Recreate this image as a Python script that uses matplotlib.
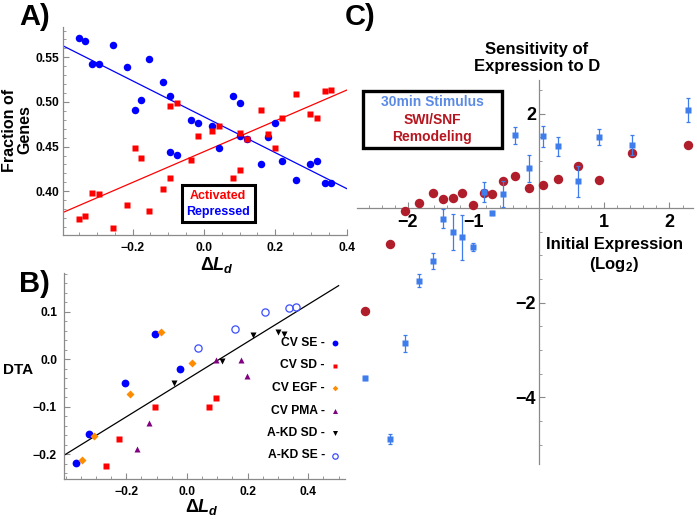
import numpy as np
import matplotlib
matplotlib.use('Agg')
import matplotlib.pyplot as plt
from matplotlib.patches import Rectangle
from matplotlib.ticker import MultipleLocator, FuncFormatter

# --- Datos del panel A ---
a_x = [-0.351, -0.333, -0.313, -0.294, -0.254, -0.215, -0.194, -0.175, -0.155, -0.116,
       -0.095, -0.095, -0.075, -0.036, -0.017, 0.022, 0.042, 0.082, 0.101, 0.101,
       0.121, 0.161, 0.180, 0.200, 0.220, 0.257, 0.298, 0.318, 0.338, 0.357]
a_repressed = [0.572, 0.568, 0.543, 0.543, 0.564, 0.539, 0.491, 0.502, 0.548, 0.522,
               0.507, 0.444, 0.441, 0.480, 0.477, 0.473, 0.449, 0.507, 0.499, 0.462,
               0.459, 0.431, 0.461, 0.476, 0.434, 0.413, 0.431, 0.434, 0.409, 0.409]
a_activated = [0.369, 0.372, 0.398, 0.397, 0.359, 0.385, 0.448, 0.437, 0.378, 0.403,
               0.415, 0.496, 0.499, 0.435, 0.462, 0.468, 0.473, 0.415, 0.424, 0.465,
               0.458, 0.491, 0.464, 0.449, 0.482, 0.509, 0.486, 0.482, 0.512, 0.513]

# --- Datos del panel B ---
b_series = ['CV SE', 'CV SD', 'CV EGF', 'CV PMA', 'A-KD SD', 'A-KD SE']
b_x = {
    'CV SE': [-0.367, -0.324, -0.204, -0.104, -0.024],
    'CV SD': [-0.266, -0.225, -0.104, 0.074, 0.096],
    'CV EGF': [-0.347, -0.307, -0.186, -0.084, 0.016],
    'CV PMA': [-0.163, -0.126, 0.096, 0.179, 0.198],
    'A-KD SD': [-0.043, 0.116, 0.217, 0.299, 0.319],
    'A-KD SE': [0.036, 0.157, 0.259, 0.338, 0.360],
}
b_y = {
    'CV SE': [-0.219, -0.157, -0.049, 0.053, -0.020],
    'CV SD': [-0.224, -0.168, -0.101, -0.101, -0.082],
    'CV EGF': [-0.212, -0.161, -0.072, 0.058, -0.008],
    'CV PMA': [-0.189, -0.135, -0.001, -0.001, -0.034],
    'A-KD SD': [-0.050, -0.004, 0.051, 0.058, 0.053],
    'A-KD SE': [0.024, 0.063, 0.100, 0.109, 0.111],
}

# --- Datos del panel C ---
c_x = [-2.65, -2.28, -2.04, -1.83, -1.62, -1.47, -1.31, -1.18, -1.00, -0.83,
       -0.71, -0.54, -0.37, -0.15, 0.06, 0.30, 0.60, 0.92, 1.43, 2.28]
c_stim = [-3.59, -4.88, -2.86, -1.53, -1.11, -0.22, -0.50, -0.62, -0.82, 0.35,
          -0.11, 0.30, 1.54, 0.84, 1.52, 1.31, 0.57, 1.50, 1.34, 2.08]
c_stim_err = [0.05, 0.10, 0.18, 0.13, 0.17, 0.21, 0.38, 0.47, 0.08, 0.21,
              0.04, 0.27, 0.18, 0.28, 0.22, 0.20, 0.33, 0.17, 0.21, 0.25]
c_swi = [-2.17, -0.76, -0.06, 0.11, 0.32, 0.20, 0.21, 0.33, 0.06, 0.32,
         0.29, 0.58, 0.68, 0.43, 0.50, 0.61, 0.90, 0.60, 1.17, 1.34]

# --- Estilo ---
plt.rcParams['font.family'] = ['Liberation Sans', 'DejaVu Sans']
plt.rcParams['font.weight'] = 'bold'
plt.rcParams['mathtext.fontset'] = 'custom'
plt.rcParams['mathtext.rm'] = 'Liberation Sans:bold'
plt.rcParams['mathtext.it'] = 'Liberation Sans:italic:bold'
plt.rcParams['mathtext.bf'] = 'Liberation Sans:bold'

W, H = 697, 519
GRIS = '#8a8a8a'
AZUL_C = '#3f7cec'
ROJO_C = '#b01e2c'


def fx(p):
    return p / W


def fy(p):
    return 1 - p / H


def fmt(dec):
    return FuncFormatter(lambda v, pos: ('%.*f' % (dec, v)).replace('-', '\u2212'))


def estilo_ejes(ax, size=8.7):
    for s in ['top', 'right']:
        ax.spines[s].set_visible(False)
    for s in ['left', 'bottom']:
        ax.spines[s].set_color(GRIS)
        ax.spines[s].set_linewidth(0.9)
    ax.tick_params(which='both', direction='in', color=GRIS, labelsize=size)
    ax.tick_params(which='major', length=4, width=0.8)
    ax.tick_params(which='minor', length=2, width=0.6)
    for lab in ax.get_xticklabels() + ax.get_yticklabels():
        lab.set_fontweight('bold')


fig = plt.figure(figsize=(W / 100, H / 100), dpi=100)

# ---------------- Panel A ----------------
axA = fig.add_axes([fx(63.3), fy(235), fx(283.4), 208 / H])
axA.set_xlim(-0.394, 0.40)
axA.set_ylim(0.351, 0.584)
axA.plot(a_x, a_repressed, 'o', color='#0000ff', ms=5.4, mec='none', zorder=3)
axA.plot(a_x, a_activated, 's', color='#ff0000', ms=3.7, mec='none', zorder=3)
xl = np.array(axA.get_xlim())
kb = np.polyfit(a_x, a_repressed, 1)
kr = np.polyfit(a_x, a_activated, 1)
axA.plot(xl, np.polyval(kb, xl), color='#0000ff', lw=0.9, zorder=2)
axA.plot(xl, np.polyval(kr, xl), color='#ff0000', lw=0.9, zorder=2)
axA.set_xticks([-0.2, 0.0, 0.2, 0.4])
axA.set_yticks([0.40, 0.45, 0.50, 0.55])
axA.xaxis.set_minor_locator(MultipleLocator(0.05))
axA.yaxis.set_minor_locator(MultipleLocator(0.01))
axA.xaxis.set_major_formatter(fmt(1))
axA.yaxis.set_major_formatter(fmt(2))
estilo_ejes(axA)
axA.tick_params(axis='x', pad=5)
axA.tick_params(axis='y', pad=3)

fig.text(fx(17.5), fy(130), 'Fraction of\nGenes', rotation=90, ha='center', va='center',
         fontsize=11.5, linespacing=1.0, multialignment='center')
fig.text(fx(217), fy(265), r'$\Delta L_d$', ha='center', va='center', fontsize=13)

fig.patches.append(Rectangle((fx(181.7), fy(221.7)), fx(255 - 181.7), (221.7 - 185) / H,
                             transform=fig.transFigure, fill=False, ec='black', lw=2.2))
fig.text(fx(218.3), fy(196), 'Activated', color='#ff0000', ha='center', va='center', fontsize=9)
fig.text(fx(218.3), fy(212), 'Repressed', color='#0000ff', ha='center', va='center', fontsize=9)

# ---------------- Panel B ----------------
axB = fig.add_axes([fx(64), fy(479), fx(281), 206 / H])
axB.set_xlim(-0.405, 0.521)
axB.set_ylim(-0.252, 0.182)
estilos_b = {
    'CV SE': dict(marker='o', color='#0000ff', ms=5.6, mec='none'),
    'CV SD': dict(marker='s', color='#ff0000', ms=3.8, mec='none'),
    'CV EGF': dict(marker='D', color='#ff8c00', ms=3.8, mec='none'),
    'CV PMA': dict(marker='^', color='#800080', ms=4.8, mec='none'),
    'A-KD SD': dict(marker='v', color='#000000', ms=4.8, mec='none'),
    'A-KD SE': dict(marker='o', color='#3a4dff', ms=5.2, mfc='none', mew=0.9),
}
todos_x, todos_y = [], []
for nombre in b_series:
    axB.plot(b_x[nombre], b_y[nombre], ls='none', zorder=3, **estilos_b[nombre])
    todos_x += b_x[nombre]
    todos_y += b_y[nombre]
k = np.polyfit(todos_x, todos_y, 1)
xb = np.array([-0.405, 0.50])
axB.plot(xb, np.polyval(k, xb), color='black', lw=0.9, zorder=2)
axB.set_xticks([-0.2, 0.0, 0.2, 0.4])
axB.set_yticks([-0.2, -0.1, 0.0, 0.1])
axB.xaxis.set_minor_locator(MultipleLocator(0.05))
axB.yaxis.set_minor_locator(MultipleLocator(0.02))
axB.xaxis.set_major_formatter(fmt(1))
axB.yaxis.set_major_formatter(fmt(1))
estilo_ejes(axB)
axB.tick_params(axis='x', pad=5)
axB.tick_params(axis='y', pad=5)

fig.text(fx(18), fy(370), 'DTA', ha='center', va='center', fontsize=11)
fig.text(fx(202), fy(507), r'$\Delta L_d$', ha='center', va='center', fontsize=13)

for i, nombre in enumerate(b_series):
    yy = fy(343 + 22.5 * i)
    fig.text(fx(325), yy, nombre + ' -', ha='right', va='center', fontsize=8.7)
    st = dict(estilos_b[nombre])
    st['ms'] = st['ms'] * 0.75
    axB.plot([fx(335)], [yy], ls='none', transform=fig.transFigure, clip_on=False, **st)

# ---------------- Panel C ----------------
axC = fig.add_axes([fx(357), fy(464), fx(336), 384 / H])
axC.set_xlim(-2.78, 2.36)
axC.set_ylim(-5.41, 2.71)
axC.plot(c_x, c_swi, 'o', color=ROJO_C, ms=6.8, mec='none', zorder=3)
axC.errorbar(c_x, c_stim, yerr=c_stim_err, fmt='s', color=AZUL_C, ms=4.4, mec='none',
             elinewidth=0.9, capsize=1.3, capthick=0.9, zorder=4)
for s in ['top', 'right']:
    axC.spines[s].set_visible(False)
axC.spines['left'].set_position(('data', 0))
axC.spines['bottom'].set_position(('data', 0))
for s in ['left', 'bottom']:
    axC.spines[s].set_color(GRIS)
    axC.spines[s].set_linewidth(0.9)
    axC.spines[s].set_zorder(1)
axC.set_xticks([-2, -1, 1, 2])
axC.set_yticks([-4, -2, 2])
axC.xaxis.set_minor_locator(MultipleLocator(0.2))
axC.yaxis.set_minor_locator(MultipleLocator(0.5))
axC.xaxis.set_major_formatter(fmt(0))
axC.yaxis.set_major_formatter(fmt(0))
axC.tick_params(which='both', direction='in', color=GRIS, labelsize=13)
axC.tick_params(which='major', length=4, width=0.8)
axC.tick_params(which='minor', length=2, width=0.6)
axC.tick_params(axis='x', pad=4)
axC.tick_params(axis='y', pad=2)

fig.text(fx(536.7), fy(58), 'Sensitivity of\nExpression to D', ha='center', va='center',
         fontsize=12, linespacing=1.2)
fig.text(fx(614), fy(244), 'Initial Expression', ha='center', va='center', fontsize=12)
fig.text(fx(614), fy(265), '(Log$_2$)', ha='center', va='center', fontsize=12)

fig.patches.append(Rectangle((fx(362.7), fy(148.3)), fx(501.7 - 362.7), (148.3 - 90.7) / H,
                             transform=fig.transFigure, fill=False, ec='black', lw=2.4))
fig.text(fx(432), fy(102), '30min Stimulus', color='#5a8ae6', ha='center', va='center', fontsize=10)
fig.text(fx(432), fy(120), 'SWI/SNF', color='#b5161f', ha='center', va='center', fontsize=10)
fig.text(fx(432), fy(137), 'Remodeling', color='#b5161f', ha='center', va='center', fontsize=10)

# --- Etiquetas de panel ---
fig.text(fx(19), fy(17), 'A)', ha='left', va='center', fontsize=21)
fig.text(fx(19), fy(284), 'B)', ha='left', va='center', fontsize=21)
fig.text(fx(345), fy(17), 'C)', ha='left', va='center', fontsize=21)

fig.savefig('out.png', dpi=100)
